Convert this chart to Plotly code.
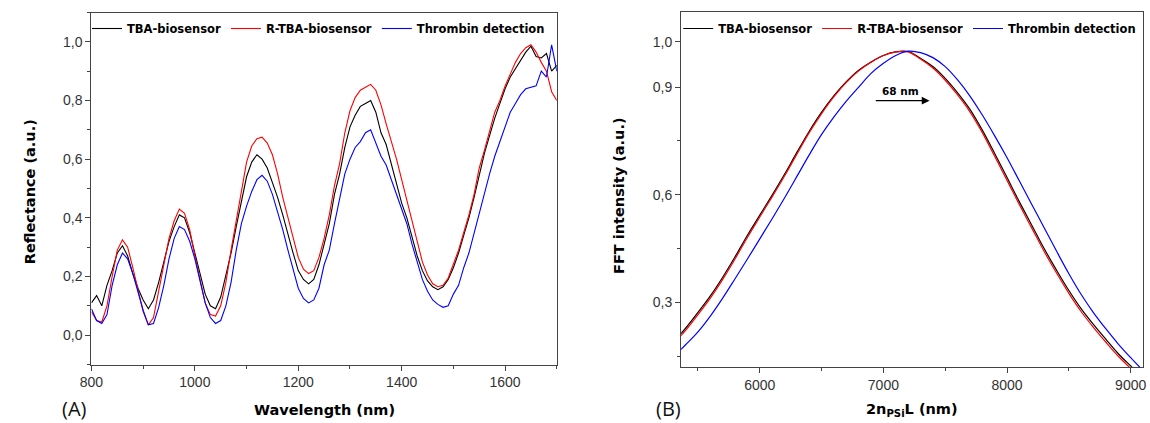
import plotly.graph_objects as go

# ---------------- data ----------------
wavelength = list(range(800, 1701, 10))
tba = [0.11, 0.135, 0.10, 0.17, 0.22, 0.28, 0.305, 0.27, 0.21, 0.16,
       0.12, 0.09, 0.12, 0.18, 0.25, 0.32, 0.37, 0.41, 0.40, 0.35,
       0.28, 0.21, 0.14, 0.10, 0.09, 0.13, 0.20, 0.28, 0.37, 0.46,
       0.54, 0.59, 0.615, 0.60, 0.57, 0.52, 0.47, 0.41, 0.34, 0.28,
       0.22, 0.19, 0.175, 0.19, 0.24, 0.31, 0.38, 0.48, 0.55, 0.64,
       0.71, 0.75, 0.78, 0.79, 0.80, 0.76, 0.69, 0.65, 0.58, 0.52,
       0.45, 0.40, 0.33, 0.27, 0.22, 0.185, 0.165, 0.155, 0.165, 0.19,
       0.23, 0.28, 0.34, 0.40, 0.47, 0.55, 0.62, 0.68, 0.74, 0.79,
       0.84, 0.88, 0.91, 0.94, 0.965, 0.985, 0.95, 0.945, 0.96, 0.90,
       0.92]
rtba = [0.08, 0.05, 0.045, 0.10, 0.20, 0.29, 0.325, 0.30, 0.23, 0.15,
        0.08, 0.035, 0.06, 0.15, 0.24, 0.33, 0.39, 0.43, 0.415, 0.36,
        0.27, 0.19, 0.11, 0.07, 0.065, 0.10, 0.18, 0.29, 0.39, 0.50,
        0.59, 0.645, 0.67, 0.675, 0.655, 0.615, 0.55, 0.47, 0.40, 0.33,
        0.265, 0.225, 0.21, 0.22, 0.265, 0.33, 0.41, 0.51, 0.585, 0.69,
        0.765, 0.81, 0.835, 0.845, 0.855, 0.835, 0.785, 0.72, 0.66, 0.60,
        0.53, 0.46, 0.385, 0.31, 0.25, 0.205, 0.175, 0.165, 0.17, 0.195,
        0.24, 0.29, 0.35, 0.41, 0.48, 0.57, 0.63, 0.70, 0.76, 0.80,
        0.85, 0.89, 0.93, 0.96, 0.98, 0.99, 0.965, 0.93, 0.90, 0.83,
        0.80]
thrombin = [0.09, 0.05, 0.04, 0.07, 0.17, 0.24, 0.28, 0.26, 0.21, 0.15,
            0.085, 0.035, 0.04, 0.095, 0.17, 0.26, 0.33, 0.37, 0.36, 0.32,
            0.26, 0.185, 0.11, 0.06, 0.04, 0.05, 0.10, 0.18, 0.29, 0.38,
            0.44, 0.49, 0.53, 0.545, 0.525, 0.48, 0.42, 0.36, 0.29, 0.22,
            0.16, 0.125, 0.11, 0.12, 0.16, 0.24, 0.29, 0.38, 0.47, 0.55,
            0.60, 0.64, 0.66, 0.69, 0.70, 0.655, 0.61, 0.58, 0.53, 0.48,
            0.43, 0.38, 0.31, 0.25, 0.19, 0.15, 0.12, 0.105, 0.095, 0.10,
            0.14, 0.17, 0.23, 0.28, 0.35, 0.42, 0.48, 0.55, 0.61, 0.66,
            0.71, 0.76, 0.79, 0.82, 0.84, 0.845, 0.85, 0.90, 0.88, 0.99,
            0.90]

opl = list(range(5300, 9101, 100))
fft_tba = [0.19, 0.228, 0.272, 0.318, 0.37, 0.427, 0.487, 0.543, 0.599, 0.657,
           0.718, 0.777, 0.83, 0.876, 0.915, 0.947, 0.97, 0.988, 0.998, 0.999,
           0.98, 0.957, 0.924, 0.884, 0.838, 0.78, 0.715, 0.648, 0.58, 0.515,
           0.45, 0.39, 0.333, 0.282, 0.238, 0.197, 0.157, 0.123, 0.09]
fft_rtba = [0.184, 0.222, 0.266, 0.312, 0.364, 0.421, 0.481, 0.538, 0.594, 0.652,
            0.713, 0.773, 0.826, 0.873, 0.913, 0.945, 0.969, 0.988, 0.998, 0.998,
            0.978, 0.953, 0.919, 0.878, 0.831, 0.773, 0.707, 0.64, 0.572, 0.507,
            0.442, 0.382, 0.325, 0.274, 0.23, 0.189, 0.15, 0.116, 0.084]
fft_thrombin = [0.148, 0.182, 0.218, 0.262, 0.312, 0.366, 0.421, 0.477, 0.533, 0.591,
                0.651, 0.711, 0.768, 0.817, 0.861, 0.9, 0.938, 0.966, 0.988, 1.0,
                0.996, 0.982, 0.957, 0.92, 0.875, 0.822, 0.764, 0.703, 0.638, 0.573,
                0.508, 0.443, 0.38, 0.322, 0.271, 0.226, 0.184, 0.146, 0.11]

names = ["TBA-biosensor", "R-TBA-biosensor", "Thrombin detection"]
colors = ["#000000", "#ff0000", "#0000ff"]

fft_ticks = [0.3, 0.6, 0.9, 1.026]
fft_ticktext = ["0,3", "0,6", "0,9", "1,0"]

# ---------------- figure ----------------
W, H = 1150, 423
def px(x):
    return x / W
def py(y):
    return 1 - y / H

fig = go.Figure()
for name, ys, c in zip(names, [tba, rtba, thrombin], colors):
    fig.add_trace(go.Scatter(x=wavelength, y=ys, name=name, mode="lines",
                             line=dict(color=c, width=1.1),
                             xaxis="x", yaxis="y", legend="legend"))
for name, ys, c in zip(names, [fft_tba, fft_rtba, fft_thrombin], colors):
    fig.add_trace(go.Scatter(x=opl, y=ys, name=name, mode="lines",
                             line=dict(color=c, width=1.2, shape="spline"),
                             xaxis="x2", yaxis="y2", legend="legend2"))

tickfont = dict(family="Liberation Sans, Arial, sans-serif", size=14, color="#333333")
axis_common = dict(showline=True, linecolor="#444444", linewidth=1.3, mirror=True,
                   ticks="outside", ticklen=5, tickwidth=1.2, tickcolor="#444444",
                   showgrid=False, zeroline=False, tickfont=tickfont)

fig.update_layout(
    width=W, height=H,
    margin=dict(l=0, r=0, t=0, b=0),
    paper_bgcolor="white", plot_bgcolor="white",
    separators=", ",
    xaxis=dict(domain=[px(80.5), px(552)], range=[800, 1700], dtick=200, tick0=800,
               minor=dict(dtick=100, ticklen=3, ticks="outside", tickcolor="#444444"),
               anchor="y", **axis_common),
    yaxis=dict(domain=[py(364.5), py(12.5)], range=[-0.1, 1.1], dtick=0.2, tick0=0,
               tickformat=".1f",
               minor=dict(dtick=0.1, ticklen=3, ticks="outside", tickcolor="#444444"),
               anchor="x", **axis_common),
    xaxis2=dict(domain=[px(678), px(1146)], range=[5364, 9100], dtick=1000, tick0=6000,
                minor=dict(dtick=500, tick0=5500, ticklen=3, ticks="outside", tickcolor="#444444"),
                anchor="y2", **axis_common),
    yaxis2=dict(domain=[py(367), py(12.4)], range=[0.12, 1.108],
                tickmode="array", tickvals=fft_ticks, ticktext=fft_ticktext,
                minor=dict(tickmode="array", tickvals=[0.15, 0.45, 0.75], ticklen=3,
                           ticks="outside", tickcolor="#444444"),
                anchor="x2", **axis_common),
    legend=dict(orientation="h", x=px(76), y=py(14), xanchor="left", yanchor="top",
                bgcolor="rgba(0,0,0,0)", itemwidth=30,
                font=dict(family="DejaVu Sans", size=11.5, color="black", weight="bold")),
    legend2=dict(orientation="h", x=px(675), y=py(14), xanchor="left", yanchor="top",
                 bgcolor="rgba(0,0,0,0)", itemwidth=30,
                 font=dict(family="DejaVu Sans", size=11.5, color="black", weight="bold")),
)

title_font = dict(family="DejaVu Sans", size=14.5, color="black", weight="bold")
annots = [
    dict(text="Reflectance (a.u.)", x=px(18.5), y=py(192), textangle=-90, font=title_font),
    dict(text="FFT intensity (a.u.)", x=px(615), y=py(195), textangle=-90, font=title_font),
    dict(text="Wavelength (nm)", x=px(317), y=py(410), font=title_font),
    dict(text="2n<sub>PSi</sub>L (nm)", x=px(912), y=py(410), font=title_font),
    dict(text="(A)", x=px(63), y=py(408), font=dict(family="Open Sans", size=20, color="#111111")),
    dict(text="(B)", x=px(665), y=py(408), font=dict(family="Open Sans", size=20, color="#111111")),
]
for a in annots:
    fig.add_annotation(xref="paper", yref="paper", showarrow=False,
                       xanchor="center", yanchor="middle", **a)

# shift annotation (68 nm) in data coordinates
fig.add_annotation(x=7141, y=0.89, xref="x2", yref="y2", text="68 nm", showarrow=False,
                   font=dict(family="DejaVu Sans", size=10.5, color="black", weight="bold"))
fig.add_annotation(x=7373, y=0.862, ax=6926, ay=0.862, xref="x2", yref="y2",
                   axref="x2", ayref="y2", text="", showarrow=True,
                   arrowhead=2, arrowsize=1.2, arrowwidth=1.3, arrowcolor="black")

fig.write_html("out.html")
